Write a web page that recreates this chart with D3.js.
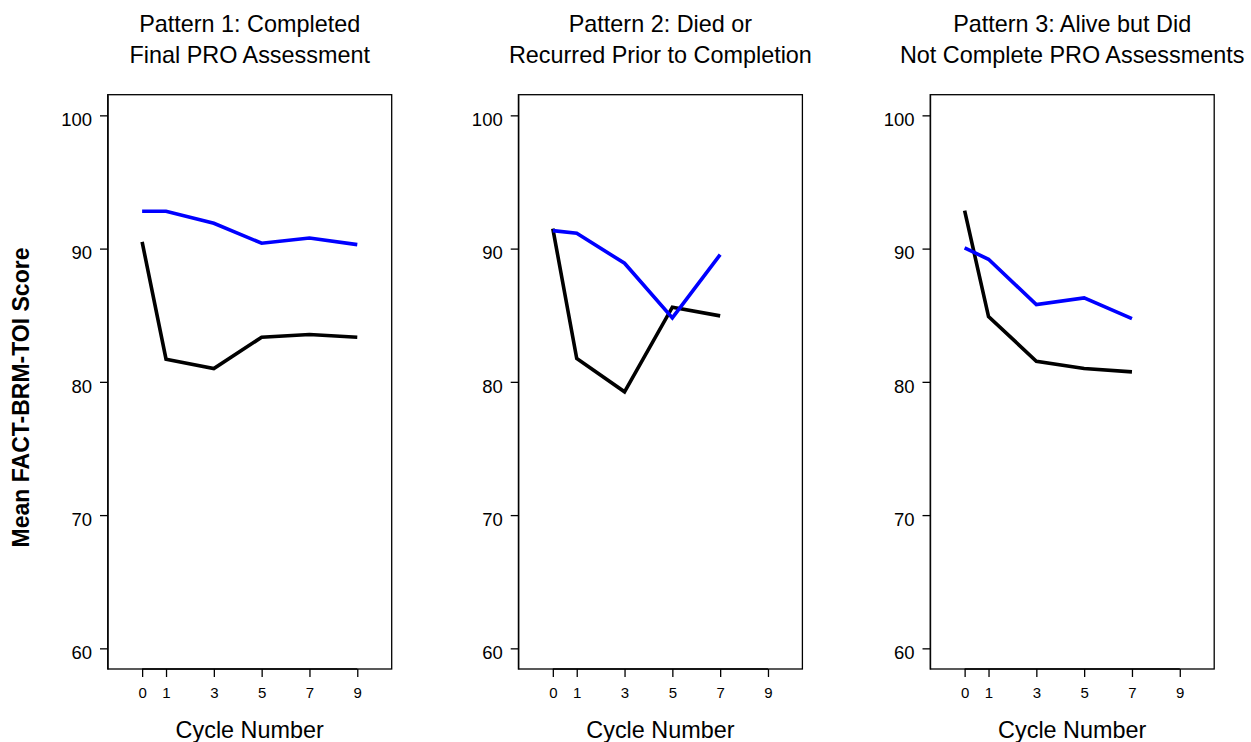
<!DOCTYPE html>
<html>
<head>
<meta charset="utf-8">
<title>Mean FACT-BRM-TOI Score by Pattern</title>
<script src="https://cdn.jsdelivr.net/npm/d3@7"></script>
<style>
	body, html { margin: 0; padding: 0; background: #fff; }
	svg text { font-family: "Liberation Sans", Arial, Helvetica, sans-serif; fill: #000; }
</style>
</head>
<body>
<svg id="chart" width="1251" height="742"></svg>
<script>
	// cycles and tick labels
	var cycles1 = [0, 1, 3, 5, 7, 9];
	var cycles23 = [0, 1, 3, 5, 7];
	var xTicks = [0, 1, 3, 5, 7, 9];
	var yTicks = [60, 70, 80, 90, 100];

	// panel titles
	var titles = [
		["Pattern 1: Completed", "Final PRO Assessment"],
		["Pattern 2: Died or", "Recurred Prior to Completion"],
		["Pattern 3: Alive but Did", "Not Complete PRO Assessments"]
	];

	// mean scores
	var blue1 = [92.8, 92.8, 91.9, 90.4, 90.8, 90.3];
	var black1 = [90.5, 81.7, 81.0, 83.35, 83.55, 83.35];
	var blue2 = [91.35, 91.15, 88.9, 84.8, 89.55];
	var black2 = [91.5, 81.75, 79.25, 85.6, 84.95];
	var blue3 = [90.05, 89.2, 85.8, 86.3, 84.75];
	var black3 = [92.85, 84.9, 81.55, 81.0, 80.75];

	var panels = [
		{ x: cycles1, blue: blue1, black: black1 },
		{ x: cycles23, blue: blue2, black: black2 },
		{ x: cycles23, blue: blue3, black: black3 }
	];

	var svg = d3.select("#chart");

	var plotTop = 94.7, plotBottom = 669,
		pw = 284, lefts = [107.7, 518.4, 930.2];

	var y = d3.scaleLinear().domain([58.45, 101.55]).range([plotBottom, plotTop]);

	panels.forEach(function(p, i) {
		var x = d3.scaleLinear().domain([-1.44, 10.44]).range([0, pw]);
		var g = svg.append("g").attr("transform", "translate(" + lefts[i] + ",0)");

		// titles
		titles[i].forEach(function(t, k) {
			g.append("text")
				.attr("x", pw / 2)
				.attr("y", 32.3 + k * 31)
				.attr("text-anchor", "middle")
				.style("font-size", "23.4px")
				.text(t);
		});

		// y axis
		var yAxis = g.append("g")
			.call(d3.axisLeft(y).tickValues(yTicks).tickSize(7.7).tickPadding(8).tickSizeOuter(0))
			.attr("font-size", 18.5);
		yAxis.selectAll("text").attr("dy", "0.56em");

		// x axis
		var xAxis = g.append("g")
			.attr("transform", "translate(0," + plotBottom + ")")
			.call(d3.axisBottom(x).tickValues(xTicks).tickSize(8).tickPadding(10).tickSizeOuter(0))
			.attr("font-size", 15);
		xAxis.select(".domain").attr("d", "M" + x(0) + ",0H" + x(9)).attr("stroke-width", 1.6);
		g.selectAll(".tick line").attr("stroke-width", 1.3);

		g.append("text")
			.attr("x", pw / 2)
			.attr("y", 738.3)
			.attr("text-anchor", "middle")
			.style("font-size", "23.4px")
			.text("Cycle Number");

		// box
		g.append("rect")
			.attr("x", 0).attr("y", plotTop)
			.attr("width", pw).attr("height", plotBottom - plotTop)
			.attr("fill", "none").attr("stroke", "#000").attr("stroke-width", 1.3);

		var line = d3.line()
			.x(function(d) { return x(d[0]); })
			.y(function(d) { return y(d[1]); });

		g.append("path")
			.datum(d3.zip(p.x, p.black))
			.attr("d", line)
			.attr("fill", "none").attr("stroke", "#000").attr("stroke-width", 3.6);

		g.append("path")
			.datum(d3.zip(p.x, p.blue))
			.attr("d", line)
			.attr("fill", "none").attr("stroke", "#0000ff").attr("stroke-width", 3.6);
	});

	svg.append("text")
		.attr("transform", "translate(29.3,397.5) rotate(-90)")
		.attr("text-anchor", "middle")
		.style("font-size", "23px")
		.style("font-weight", "bold")
		.text("Mean FACT-BRM-TOI Score");
</script>
</body>
</html>
